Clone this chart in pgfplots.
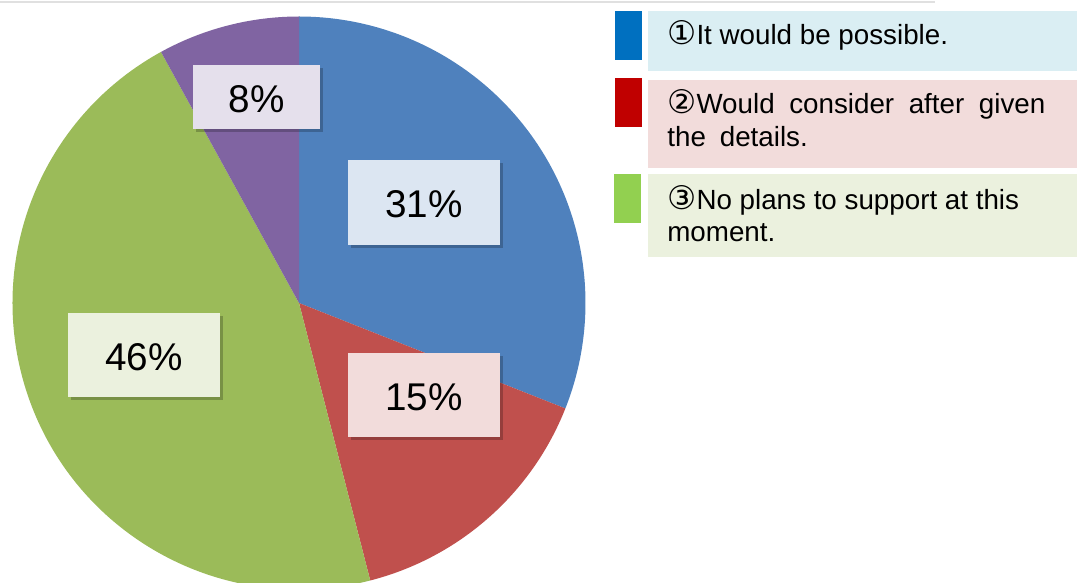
\documentclass[border=0pt]{standalone}
\usepackage{pgfplots}
\pgfplotsset{compat=1.18}
\usepackage{pgfplotstable}
\usepackage{fontspec}
\setmainfont{Liberation Sans}
\newfontfamily\sym{DejaVu Sans}

\definecolor{pieblue}{HTML}{4F81BD}
\definecolor{piered}{HTML}{C0504D}
\definecolor{piegreen}{HTML}{9BBB59}
\definecolor{piepurple}{HTML}{8064A2}
\definecolor{keyblue}{HTML}{0070C0}
\definecolor{keyred}{HTML}{C00000}
\definecolor{keygreen}{HTML}{92D050}
\definecolor{boxblue}{HTML}{DAEEF3}
\definecolor{boxred}{HTML}{F2DCDB}
\definecolor{boxgreen}{HTML}{EBF1DE}
\definecolor{lblblue}{HTML}{DCE6F2}
\definecolor{lblpurple}{HTML}{E5E0EC}

% shares, clockwise from 12 o'clock
\pgfplotstableread{
share
31
15
46
8
}\piedata

\newcommand{\lblbox}[6]{%
  \fill[black,opacity=0.22] (#1+0.06,#2-0.06) rectangle (#3+0.06,#4-0.06);
  \fill[#5] (#1,#2) rectangle (#3,#4);
  \node[font=\fontsize{22}{26}\selectfont] at ({(#1+#3)/2},{(#2+#4)/2-0.04}) {#6};
}
\newcommand{\circnum}[1]{{\sym\fontsize{18.5}{20}\selectfont #1}}

\begin{document}
\begin{tikzpicture}
\useasboundingbox (0,0) rectangle (21.64,11.66);

\pgfplotstablegetelem{0}{share}\of\piedata \let\sA\pgfplotsretval
\pgfplotstablegetelem{1}{share}\of\piedata \let\sB\pgfplotsretval
\pgfplotstablegetelem{2}{share}\of\piedata \let\sC\pgfplotsretval
\pgfplotstablegetelem{3}{share}\of\piedata \let\sD\pgfplotsretval
\pgfmathsetmacro\aA{90-3.6*\sA}
\pgfmathsetmacro\aB{\aA-3.6*\sB}
\pgfmathsetmacro\aC{\aB-3.6*\sC}
\pgfmathsetmacro\aD{\aC-3.6*\sD}

\begin{axis}[at={(0,0)}, anchor=south west, scale only axis,
  x=1cm, y=1cm, xmin=0, xmax=21.64, ymin=0, ymax=11.66,
  hide axis, clip=true]
  \fill[pieblue] (axis cs:5.98,5.60) -- ++(90:5.73cm)
    arc[start angle=90, end angle=\aA, radius=5.73cm] -- cycle;
  \fill[piered] (axis cs:5.98,5.60) -- ++(\aA:5.73cm)
    arc[start angle=\aA, end angle=\aB, radius=5.73cm] -- cycle;
  \fill[piegreen] (axis cs:5.98,5.60) -- ++(\aB:5.73cm)
    arc[start angle=\aB, end angle=\aC, radius=5.73cm] -- cycle;
  \fill[piepurple] (axis cs:5.98,5.60) -- ++(\aC:5.73cm)
    arc[start angle=\aC, end angle=\aD, radius=5.73cm] -- cycle;
\end{axis}

% faint rule along the top
\draw[black!12, line width=0.05cm] (0,11.62) -- (18.7,11.62);

% slice labels
\lblbox{3.86}{9.08}{6.40}{10.36}{lblpurple}{8\%}
\lblbox{6.96}{6.76}{10.00}{8.46}{lblblue}{31\%}
\lblbox{6.96}{2.92}{10.00}{4.60}{boxred}{15\%}
\lblbox{1.36}{3.72}{4.40}{5.40}{boxgreen}{46\%}

% legend
\fill[keyblue] (12.30,10.46) rectangle (12.84,11.44);
\fill[boxblue] (12.96,10.24) rectangle (21.54,11.44);
\node[anchor=base west, inner sep=0pt, font=\fontsize{15.8}{18}\selectfont]
  at (13.34,10.76) {\circnum{①}It would be possible.};

\fill[keyred] (12.30,9.12) rectangle (12.84,10.10);
\fill[boxred] (12.96,8.30) rectangle (21.54,10.06);
\node[anchor=base west, inner sep=0pt, font=\fontsize{15.8}{18}\selectfont]
  at (13.34,9.38) {\makebox[7.56cm][s]{\circnum{②}Would\hfill consider\hfill after\hfill given}};
\node[anchor=base west, inner sep=0pt, font=\fontsize{15.8}{18}\selectfont]
  at (13.34,8.72) {the\hspace{0.5em}details.};

\fill[keygreen] (12.28,7.20) rectangle (12.82,8.18);
\fill[boxgreen] (12.96,6.52) rectangle (21.54,8.18);
\node[anchor=base west, inner sep=0pt, font=\fontsize{15.8}{18}\selectfont]
  at (13.34,7.46) {\circnum{③}No plans to support at this};
\node[anchor=base west, inner sep=0pt, font=\fontsize{15.8}{18}\selectfont]
  at (13.34,6.82) {moment.};
\end{tikzpicture}
\end{document}
